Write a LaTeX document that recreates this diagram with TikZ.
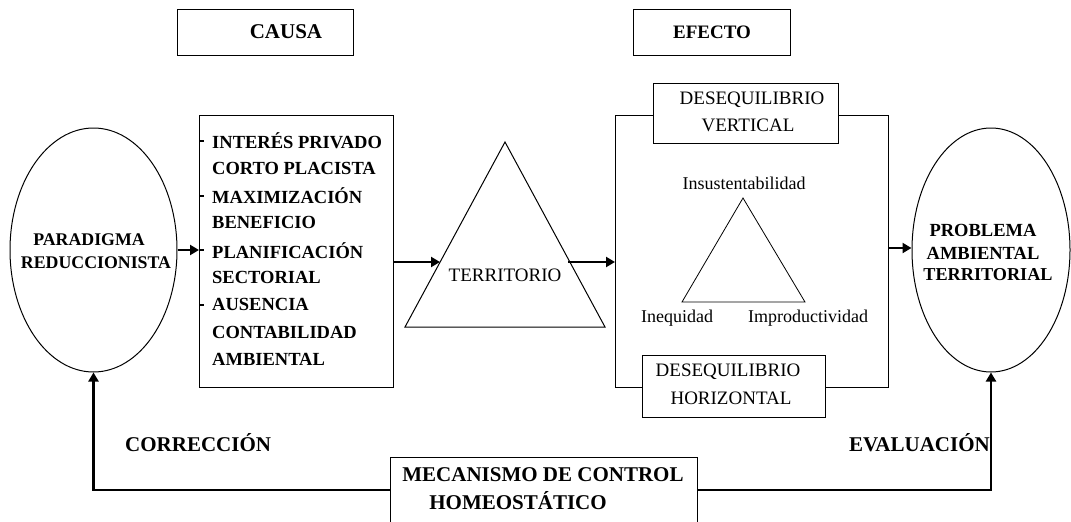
\documentclass[tikz,border=0pt]{standalone}
\usepackage{fontspec}
\setmainfont{Liberation Serif}
\usetikzlibrary{arrows.meta,shapes.geometric}
\begin{document}
\begin{tikzpicture}[x=1pt,y=-1pt,
  box/.style={draw,line width=0.9pt,fill=white,inner sep=0pt},
  arr/.style={line width=2.6pt,-{Triangle[length=9pt,width=10pt]}},
  bf/.style={font=\fontsize{18.5}{23}\selectfont\bfseries,inner sep=0pt},
  bfl/.style={font=\fontsize{21}{25}\selectfont\bfseries,inner sep=0pt},
  bfe/.style={font=\fontsize{17.8}{22}\selectfont\bfseries,inner sep=0pt},
  rf/.style={font=\fontsize{19}{25}\selectfont,inner sep=0pt},
  sf/.style={font=\fontsize{18}{22}\selectfont,inner sep=0pt},
  oval/.style={draw,ellipse,line width=1pt,inner sep=0pt}
  ]
\useasboundingbox (0,0) rectangle (1071,522);

% top headers
\node[box,minimum width=176pt,minimum height=46pt,anchor=north west] (causa) at (177,9) {};
\node[bfl] (causat) at (286,32) {CAUSA};
\node[box,minimum width=157pt,minimum height=46pt,anchor=north west] (efecto) at (633,9) {};
\node[bf,font=\fontsize{19}{23}\selectfont\bfseries] (efectot) at (712,32) {EFECTO};

% left ellipse
\node[oval,minimum width=167pt,minimum height=244pt] (lell) at (93.5,250) {};
\node[bfe] (lell1) at (89,240) {PARADIGMA};
\node[bfe] (lell2) at (96,263) {REDUCCIONISTA};

% cause box
\node[box,minimum width=194pt,minimum height=272pt,anchor=north west] (cbox) at (199,115) {};
\foreach \t [count=\i] in {INTERÉS PRIVADO,CORTO PLACISTA,MAXIMIZACIÓN,BENEFICIO,PLANIFICACIÓN,SECTORIAL,AUSENCIA,CONTABILIDAD,AMBIENTAL}
  \node[bf,anchor=west] (c\i) at (212,{141+27.3*(\i-1)}) {\t};
\foreach \i in {1,3,5,7}
  \draw[line width=2pt] (199,{141+27.3*(\i-1)}) -- (204,{141+27.3*(\i-1)});

% territorio triangle
\draw[line width=1pt] (405,327) -- (505,142) -- (605,327) -- cycle;
\node[rf] (terr) at (505,275) {TERRITORIO};
\coordinate (tl) at (440,262);
\coordinate (tr) at (568,262);

% effect box
\node[box,minimum width=273pt,minimum height=272pt,anchor=north west] (eff) at (615,115) {};
\node[box,minimum width=185pt,minimum height=60pt,anchor=north west] (dv) at (653,83) {};
\node[rf] (dv1) at (752,100) {DESEQUILIBRIO};
\node[rf] (dv2) at (748,125) {VERTICAL};
\node[box,minimum width=183pt,minimum height=62pt,anchor=north west] (dh) at (642,355) {};
\node[rf] (dh1) at (728,372) {DESEQUILIBRIO};
\node[rf] (dh2) at (731,398) {HORIZONTAL};
\draw[line width=0.8pt] (743,198) -- (682,302) -- (805,302) -- cycle;
\node[sf] (ins) at (744,183) {Insustentabilidad};
\node[sf] (ineq) at (677,318) {Inequidad};
\node[sf] (impr) at (808,318) {Improductividad};

% right ellipse
\node[oval,minimum width=158pt,minimum height=244pt] (rell) at (991,250) {};
\node[bfe,font=\fontsize{18.5}{22}\selectfont\bfseries] (rell1) at (983,230) {PROBLEMA};
\node[bfe,font=\fontsize{18.5}{22}\selectfont\bfseries] (rell2) at (983,253) {AMBIENTAL};
\node[bfe,font=\fontsize{18.2}{22}\selectfont\bfseries] (rell3) at (988,275) {TERRITORIAL};

% arrows
\draw[arr] (lell.east) -- (lell.east -| cbox.west);
\draw[arr] (cbox.east |- tl) -- (tl);
\draw[arr] (tr) -- (tr -| eff.west);
\draw[arr] (eff.east |- 0,248) -- (rell.west |- 0,248);

% feedback
\node[box,minimum width=307pt,minimum height=80pt,anchor=north west] (mec) at (390,457) {};
\node[bfl] (mec1) at (543,475) {MECANISMO DE CONTROL};
\node[bfl] (mec2) at (518,501) {HOMEOSTÁTICO};
\draw[arr] (mec.west |- 0,490) -| (lell.south);
\draw[arr] (mec.east |- 0,490) -| (rell.south);
\node[bfl,anchor=west] (corr) at (125,443) {CORRECCIÓN};
\node[bfl,anchor=east] (eval) at (990,443) {EVALUACIÓN};
\end{tikzpicture}
\end{document}
